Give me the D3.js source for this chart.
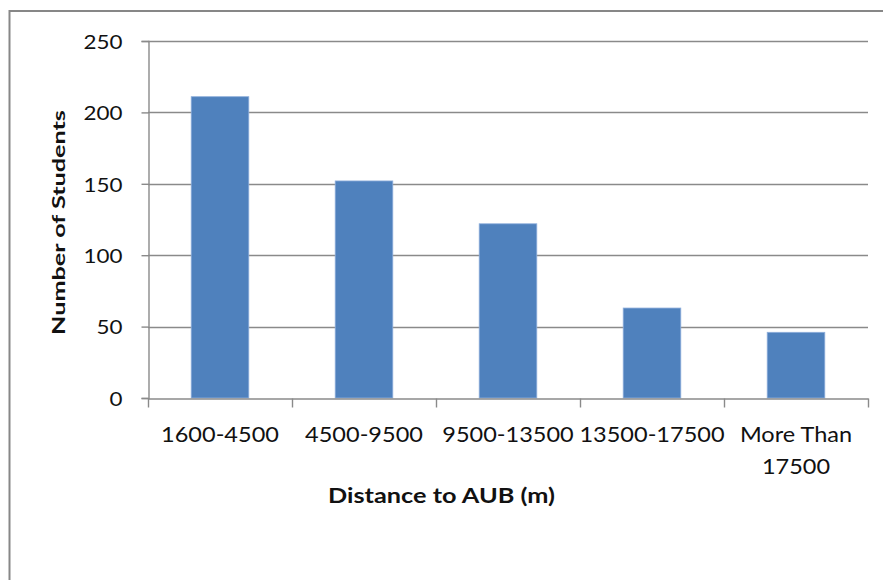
<!DOCTYPE html>
<html>
<head>
<meta charset="utf-8">
<script src="https://cdn.jsdelivr.net/npm/d3@7"></script>
<style>
  html, body { margin: 0; padding: 0; background: #fff; }
  svg { display: block; }
  text { font-family: Lato, "Open Sans", sans-serif; fill: #111; }
</style>
</head>
<body>
<svg id="chart" width="883" height="580"></svg>
<script>
const categories = ["1600-4500", "4500-9500", "9500-13500", "13500-17500", "More Than 17500"];
const categoryLines = [["1600-4500"], ["4500-9500"], ["9500-13500"], ["13500-17500"], ["More Than", "17500"]];
const values = [211, 152, 122, 63, 46];
const yTicks = [0, 50, 100, 150, 200, 250];
const xTitle = "Distance to AUB (m)";
const yTitle = "Number of Students";

const W = 883, H = 580;
const plot = { left: 148, top: 41, right: 868, bottom: 398 };
const gray = "#8a8a8a";
const stretchF = 1.12;

const svg = d3.select("#chart");
svg.append("rect").attr("width", W).attr("height", H).attr("fill", "#fff");

// outer chart border (extends beyond right/bottom of picture)
svg.append("rect")
  .attr("x", 9.5).attr("y", 11)
  .attr("width", W + 20).attr("height", H + 20)
  .attr("fill", "none").attr("stroke", "#878787").attr("stroke-width", 2);

const x = d3.scaleBand().domain(categories).range([plot.left, plot.right]).paddingInner(0).paddingOuter(0);
const y = d3.scaleLinear().domain([0, 250]).range([plot.bottom, plot.top]);

// gridlines
svg.append("g").selectAll("line").data(yTicks.filter(t => t > 0)).join("line")
  .attr("x1", plot.left).attr("x2", plot.right)
  .attr("y1", d => Math.round(y(d)) + 0.5).attr("y2", d => Math.round(y(d)) + 0.5)
  .attr("stroke", gray).attr("stroke-width", 1.4);

// bars
const bw = x.bandwidth();
svg.append("g").selectAll("rect").data(values).join("rect")
  .attr("x", (d, i) => x(categories[i]) + bw * 0.3)
  .attr("width", bw * 0.4)
  .attr("y", d => y(d))
  .attr("height", d => y(0) - y(d))
  .attr("fill", "#4F81BD")
  .attr("stroke", "#8eaedb").attr("stroke-width", 0.8);

// y axis
const yAxis = svg.append("g")
  .attr("transform", `translate(${plot.left + 0.5},0)`)
  .call(d3.axisLeft(y).tickValues(yTicks).tickSize(7).tickPadding(19).tickFormat(d3.format("d")));
yAxis.select(".domain").attr("stroke", gray).attr("stroke-width", 1.4);
yAxis.selectAll(".tick line").attr("stroke", gray).attr("stroke-width", 1.4);
yAxis.selectAll(".tick text")
  .attr("font-size", 20).attr("font-family", "Lato").attr("fill", "#111")
  .attr("dy", "0.36em")
  .each(function () {
    const t = d3.select(this);
    const xx = +t.attr("x");
    t.attr("x", xx / stretchF).attr("transform", `scale(${stretchF},1)`);
  });

// x axis
const xAxis = svg.append("g")
  .attr("transform", `translate(0,${plot.bottom + 0.5})`)
  .call(d3.axisBottom(x).tickSize(0).tickPadding(0));
xAxis.select(".domain").attr("stroke", gray).attr("stroke-width", 1.4);
xAxis.selectAll(".tick text")
  .attr("font-size", 21).attr("font-family", "Lato").attr("fill", "#111")
  .attr("y", 0).attr("dy", null)
  .attr("transform", `scale(${stretchF},1)`)
  .each(function (d, i) {
    const t = d3.select(this);
    t.text(null);
    categoryLines[i].forEach((ln, j) => {
      t.append("tspan").attr("x", 0).attr("y", 43.5 + j * 31.6).text(ln);
    });
  });
// boundary ticks
const bounds = categories.map(c => x(c)).concat([x.range()[1]]);
xAxis.append("g").selectAll("line").data(bounds).join("line")
  .attr("x1", d => Math.round(d) + 0.5).attr("x2", d => Math.round(d) + 0.5)
  .attr("y1", 0).attr("y2", 9)
  .attr("stroke", gray).attr("stroke-width", 1.4);

function fitText(sel, target) {
  const L = sel.node().getComputedTextLength();
  return target / L;
}

// x title
const xt = svg.append("text")
  .attr("font-size", 21).attr("font-weight", "bold").attr("text-anchor", "middle")
  .text(xTitle);
const fx = fitText(xt, 227);
xt.attr("transform", `translate(441.5,503) scale(${fx},1)`);

// y title
const yt = svg.append("text")
  .attr("font-size", 17).attr("font-weight", "bold").attr("text-anchor", "middle")
  .text(yTitle);
const fy = fitText(yt, 225);
yt.attr("transform", `translate(65,222.5) rotate(-90) scale(${fy},1)`);
</script>
</body>
</html>
